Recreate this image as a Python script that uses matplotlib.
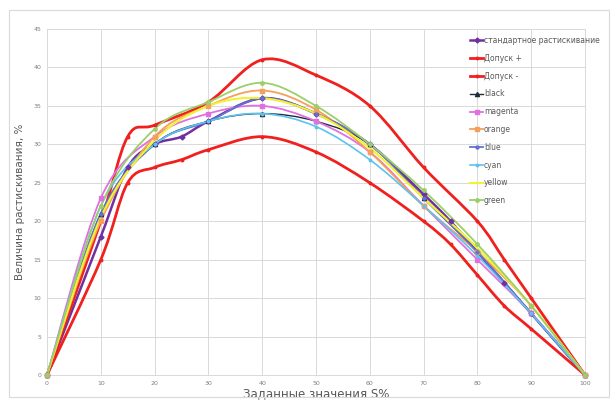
import matplotlib
matplotlib.use('Agg')
import matplotlib.pyplot as plt
from matplotlib.path import Path
from matplotlib.patches import PathPatch, Rectangle
from matplotlib.lines import Line2D

# Reading of the dot gain curves (x = set tone value %, y = dot gain %)
X_STANDARD = [0, 10, 15, 20, 25, 30, 40, 50, 60, 70, 75, 80, 85, 90, 100]
Y_STANDARD = [0, 18, 27, 30, 31, 33, 36, 34, 30, 23.5, 20, 16, 12, 8, 0]

X_TOL_PLUS = [0, 10, 15, 20, 30, 40, 50, 60, 70, 80, 85, 90, 100]
Y_TOL_PLUS = [0, 20, 31, 32.5, 35.5, 41, 39, 35, 27, 20, 15, 10, 0]

X_TOL_MINUS = [0, 10, 15, 20, 25, 30, 40, 50, 60, 70, 75, 80, 85, 90, 100]
Y_TOL_MINUS = [0, 15, 25, 27, 28, 29.3, 31, 29, 25, 20, 17, 13, 9, 6, 0]

X_TONES = [0, 10, 20, 30, 40, 50, 60, 70, 80, 90, 100]
Y_BLACK = [0, 21, 30, 33, 34, 33, 30, 23, 16, 8, 0]
Y_MAGENTA = [0, 23, 31, 34, 35, 33, 29, 22, 15, 8, 0]
Y_ORANGE = [0, 20, 31, 35, 37, 34.5, 29, 22, 16, 9, 0]
Y_BLUE = [0, 21, 30, 33, 36, 34, 30, 23, 16, 8, 0]
Y_CYAN = [0, 22, 30, 33, 34, 32.3, 28, 22, 15.5, 8, 0]
Y_YELLOW = [0, 20.5, 30.5, 35, 36, 34, 29.5, 23, 16.5, 9, 0]
Y_GREEN = [0, 22, 32, 35.5, 38, 35, 30, 24, 17, 9, 0]

LABELS = ['стандартное растискивание', 'Допуск +', 'Допуск -', 'black', 'magenta',
          'orange', 'blue', 'cyan', 'yellow', 'green']

X_TICKS = [0, 10, 20, 30, 40, 50, 60, 70, 80, 90, 100]
Y_TICKS = [0, 5, 10, 15, 20, 25, 30, 35, 40, 45]


def smooth_path(xs, ys):
    # Excel-like smoothed line: cubic bezier through every point
    pts = list(zip(xs, ys))
    verts = [pts[0]]
    codes = [Path.MOVETO]
    n = len(pts)
    for i in range(n - 1):
        p0 = pts[i - 1] if i > 0 else pts[i]
        p1 = pts[i]
        p2 = pts[i + 1]
        p3 = pts[i + 2] if i + 2 < n else pts[i + 1]
        c1 = (p1[0] + (p2[0] - p0[0]) / 6, p1[1] + (p2[1] - p0[1]) / 6)
        c2 = (p2[0] - (p3[0] - p1[0]) / 6, p2[1] - (p3[1] - p1[1]) / 6)
        verts += [c1, c2, p2]
        codes += [Path.CURVE4] * 3
    return Path(verts, codes)


series = [
    (X_STANDARD, Y_STANDARD, '#7030A0', 'D', 2.5, 1.8),
    (X_TOL_PLUS, Y_TOL_PLUS, '#F0201E', 'o', 1.8, 2.0),
    (X_TOL_MINUS, Y_TOL_MINUS, '#F0201E', 'o', 1.8, 2.0),
    (X_TONES, Y_BLACK, '#1F2A3A', '^', 3, 1.0),
    (X_TONES, Y_MAGENTA, '#E070E0', 's', 3.5, 1.3),
    (X_TONES, Y_ORANGE, '#F5A05A', 's', 2.5, 1.3),
    (X_TONES, Y_BLUE, '#6272D0', 'o', 2.2, 1.3),
    (X_TONES, Y_CYAN, '#5BC3EE', 'o', 1.8, 1.2),
    (X_TONES, Y_YELLOW, '#F2F230', None, 0, 1.5),
    (X_TONES, Y_GREEN, '#9BCF6A', 'o', 2.5, 1.3),
]

fig = plt.figure(figsize=(6.12, 4.0), dpi=100)
fig.patch.set_facecolor('white')
fig.patches.append(Rectangle((9 / 612, 3 / 400), 600 / 612, 387 / 400, transform=fig.transFigure,
                             fill=False, edgecolor='#D9D9D9', linewidth=0.8))

ax = fig.add_axes([47 / 612, 25 / 400, 538 / 612, 346 / 400])
ax.set_xlim(0, 100)
ax.set_ylim(0, 45)
ax.set_xticks(X_TICKS)
ax.set_yticks(Y_TICKS)
ax.grid(True, color='#D9D9D9', linewidth=0.7)
ax.set_axisbelow(True)
for s in ax.spines.values():
    s.set_color('#D9D9D9')
    s.set_linewidth(0.7)
ax.tick_params(length=0, labelsize=4.5, labelcolor='#7F7F7F', pad=4)

handles = []
for (xs, ys, color, marker, msize, lw), label in zip(series, LABELS):
    ax.add_patch(PathPatch(smooth_path(xs, ys), fill=False, edgecolor=color, linewidth=lw,
                           zorder=3, clip_on=False))
    if marker:
        ax.plot(xs, ys, linestyle='none', marker=marker, markersize=msize, color=color,
                zorder=4, clip_on=False)
    handles.append(Line2D([], [], color=color, linewidth=lw, marker=marker, markersize=msize))

ax.set_ylabel('Величина растискивания, %', fontsize=7.5, color='#595959', labelpad=6)
ax.set_xlabel('Заданные значения S%', fontsize=8.5, color='#595959', labelpad=1)

leg = ax.legend(handles, LABELS, loc='upper left', bbox_to_anchor=(420 / 538, 1 - 4 / 346),
                frameon=False, fontsize=5.5, labelspacing=1.15, handlelength=1.7,
                handletextpad=0.1, borderaxespad=0)
for t in leg.get_texts():
    t.set_color('#595959')

fig.savefig('out.png', dpi=100)
